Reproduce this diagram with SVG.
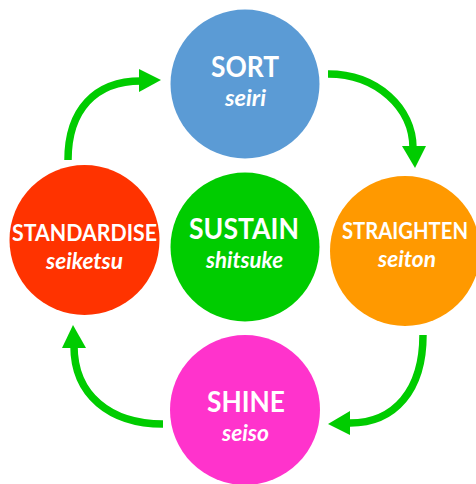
<svg xmlns="http://www.w3.org/2000/svg" width="476" height="484" viewBox="0 0 476 484">
<style>
.main{font-family:Lato,"Open Sans","Liberation Sans",sans-serif;font-weight:bold;fill:#fff;text-anchor:middle}
.sub{font-family:Lato,"Open Sans","Liberation Sans",sans-serif;font-weight:bold;font-style:italic;fill:#fff;text-anchor:middle;font-size:23px}
.arc{fill:none;stroke:#00CC00;stroke-width:7.5}
.head{fill:#00CC00}
</style>
<rect width="476" height="484" fill="#fff"/>
<g id="connectors">
<path class="arc" d="M328,74 C377,74 413,108 413,148"/>
<polygon class="head" points="402,146 426,146 415,168"/>
<path class="arc" d="M423,335 C423,390 395,423 350,423"/>
<polygon class="head" points="350,411 350,435 328,424"/>
<path class="arc" d="M163,424 C110,424 74,395 74,346"/>
<polygon class="head" points="62,348 86,348 73,325"/>
<path class="arc" d="M68,160 C68,110 95,81 141,81"/>
<polygon class="head" points="139,69 139,92 161,80"/>
</g>
<g id="sort">
<circle cx="245" cy="84" r="74.5" fill="#5B9BD5"/>
<text class="main" x="245" y="77" font-size="28" textLength="68" lengthAdjust="spacingAndGlyphs">SORT</text>
<text class="sub" x="245.5" y="106" textLength="41" lengthAdjust="spacingAndGlyphs">seiri</text>
</g>
<g id="sustain">
<circle cx="245" cy="247" r="74.5" fill="#00CC00"/>
<text class="main" x="244" y="239" font-size="29" textLength="110" lengthAdjust="spacingAndGlyphs">SUSTAIN</text>
<text class="sub" x="244.5" y="268" textLength="77" lengthAdjust="spacingAndGlyphs">shitsuke</text>
</g>
<g id="standardise">
<circle cx="84.5" cy="240" r="75" fill="#FF3300"/>
<text class="main" x="84.5" y="241" font-size="23" textLength="145" lengthAdjust="spacingAndGlyphs">STANDARDISE</text>
<text class="sub" x="84.5" y="269" textLength="77" lengthAdjust="spacingAndGlyphs">seiketsu</text>
</g>
<g id="straighten">
<circle cx="405" cy="251" r="75" fill="#FF9900"/>
<text class="main" x="405" y="239" font-size="23" textLength="126" lengthAdjust="spacingAndGlyphs">STRAIGHTEN</text>
<text class="sub" x="407" y="267" textLength="58" lengthAdjust="spacingAndGlyphs">seiton</text>
</g>
<g id="shine">
<circle cx="245" cy="410" r="75" fill="#FF33CC"/>
<text class="main" x="246" y="412" font-size="28" textLength="78" lengthAdjust="spacingAndGlyphs">SHINE</text>
<text class="sub" x="245.5" y="441" textLength="47" lengthAdjust="spacingAndGlyphs">seiso</text>
</g>
</svg>
